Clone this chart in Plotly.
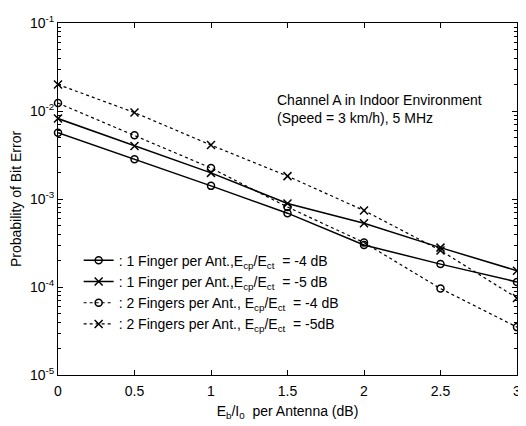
import plotly.graph_objects as go

x_vals = [0, 0.5, 1, 1.5, 2, 2.5, 3]
one_finger_m4 = [5.65e-3, 2.83e-3, 1.41e-3, 6.9e-4, 3.0e-4, 1.82e-4, 1.14e-4]
one_finger_m5 = [8.2e-3, 4.0e-3, 1.98e-3, 8.9e-4, 5.3e-4, 2.8e-4, 1.53e-4]
two_finger_m4 = [1.23e-2, 5.3e-3, 2.25e-3, 8.1e-4, 3.2e-4, 9.6e-5, 3.5e-5]
two_finger_m5 = [2.0e-2, 9.6e-3, 4.1e-3, 1.82e-3, 7.4e-4, 2.6e-4, 7.5e-5]

names = [
    ": 1 Finger per Ant.,E<sub>cp</sub>/E<sub>ct</sub>  = -4 dB",
    ": 1 Finger per Ant.,E<sub>cp</sub>/E<sub>ct</sub>  = -5 dB",
    ": 2 Fingers per Ant., E<sub>cp</sub>/E<sub>ct</sub>  = -4 dB",
    ": 2 Fingers per Ant., E<sub>cp</sub>/E<sub>ct</sub>  = -5dB",
]
x_ticks = [0, 0.5, 1, 1.5, 2, 2.5, 3]
x_ticktext = ["0", "0.5", "1", "1.5", "2", "2.5", "3"]
y_ticks = [1e-5, 1e-4, 1e-3, 1e-2, 1e-1]
y_ticktext = ["10<sup>-5</sup>", "10<sup>-4</sup>", "10<sup>-3</sup>", "10<sup>-2</sup>", "10<sup>-1</sup>"]

FONT = "Liberation Sans, Arial, sans-serif"

fig = go.Figure()
series = [
    (one_finger_m4, "solid", "circle-open", 7),
    (one_finger_m5, "solid", "x-thin-open", 8),
    (two_finger_m4, "dot", "circle-open", 7),
    (two_finger_m5, "dot", "x-thin-open", 8),
]
for (yv, dash, sym, ms), nm in zip(series, names):
    fig.add_trace(go.Scatter(
        x=x_vals, y=yv, mode="lines+markers", name=nm,
        line=dict(color="black", width=1.5 if dash == "solid" else 1.2, dash=dash),
        marker=dict(symbol=sym, size=ms, color="black", line=dict(color="black", width=1.5)),
        cliponaxis=False,
    ))

fig.add_annotation(
    x=0.472, y=0.81, xref="paper", yref="paper", xanchor="left", yanchor="top",
    text="Channel A in Indoor Environment<br>(Speed = 3 km/h), 5 MHz",
    showarrow=False, align="left", font=dict(family=FONT, size=14, color="black"),
)

# body has an 8px default margin, so the figure is sized/margined to compensate
fig.update_layout(
    width=518, height=418,
    margin=dict(l=50, r=5, t=7, b=51),
    paper_bgcolor="white", plot_bgcolor="white",
    font=dict(family=FONT, size=14, color="black"),
    showlegend=True,
    legend=dict(
        x=0.045, y=0.37, xanchor="left", yanchor="top",
        bgcolor="rgba(0,0,0,0)", font=dict(family=FONT, size=14),
        tracegroupgap=0, itemwidth=30,
    ),
    xaxis=dict(
        range=[0, 3], tickvals=x_ticks, ticktext=x_ticktext,
        showline=True, linecolor="black", linewidth=1, mirror="allticks",
        ticks="inside", ticklen=5, tickcolor="black", showgrid=False, zeroline=False,
        ticklabeloverflow="allow", ticklabelstandoff=3,
        title=dict(text="E<sub>b</sub>/I<sub>0</sub>  per Antenna (dB)", font=dict(size=14), standoff=8),
    ),
    yaxis=dict(
        type="log", range=[-5, -1], tickvals=y_ticks, ticktext=y_ticktext,
        showline=True, linecolor="black", linewidth=1, mirror="allticks",
        ticks="inside", ticklen=5, tickcolor="black", showgrid=False, zeroline=False,
        ticklabeloverflow="allow",
        minor=dict(ticks="inside", ticklen=3, tickcolor="black", dtick="D1", showgrid=False),
        title=dict(text="Probability of Bit Error", font=dict(size=14), standoff=6),
    ),
)

fig.write_html("out.html")
